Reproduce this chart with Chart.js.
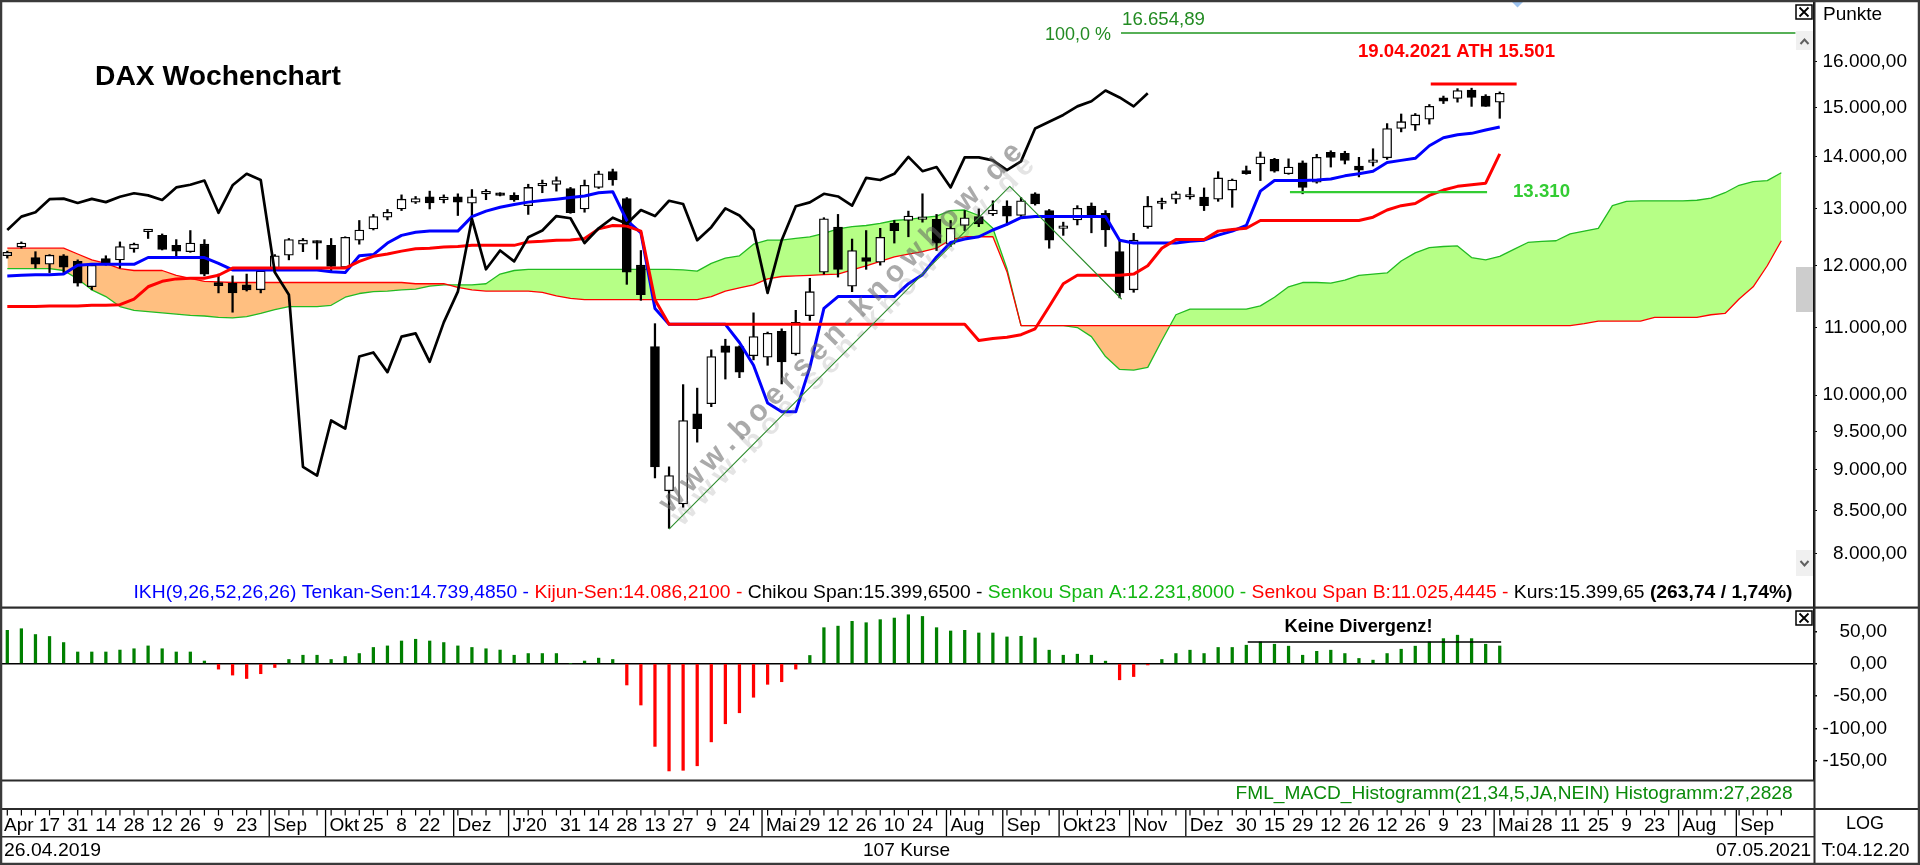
<!DOCTYPE html>
<html>
<head>
<meta charset="utf-8">
<title>DAX Wochenchart</title>
<script src="https://cdn.jsdelivr.net/npm/chart.js@4.4.1/dist/chart.umd.min.js"></script>
<style>
  html, body { margin: 0; padding: 0; background: #fff; }
  #wrap { position: relative; width: 1920px; height: 865px; overflow: hidden; background: #fff; }
  #wrap canvas { position: absolute; left: 0; top: 0; }
</style>
</head>
<body>
<div id="wrap">
  <canvas id="priceChart" width="1920" height="865"></canvas>
  <canvas id="macdChart" width="1920" height="865"></canvas>
</div>
<script>
// weekly candles 26.04.2019 .. 07.05.2021 (index 0..106)
const opens = [
  12170,12320,12140,12025,12170,12075,11650,12120,12100,12290,
  12590,12525,12350,12240,12370,11720,11710,11680,11600,11960,
  12180,12370,12420,12350,11975,12440,12640,12850,13000,13125,
  13225,13170,13225,13105,13280,13280,13250,13060,13430,13455,
  13380,13000,13400,13700,13190,12010,10710,8740,8580,9740,
  9880,10720,10710,10570,10550,10940,10600,11185,11890,12670,
  11660,12140,12060,12740,12790,12810,12810,12370,12700,12860,
  12910,13050,12880,13280,12970,12650,12800,13050,12920,12240,
  11600,12680,13100,13180,13220,13220,13180,13350,13720,13850,
  13940,13660,13870,13500,14080,14060,13810,13880,13970,14560,
  14630,14750,15200,15190,15370,15240,15110
];
const highs = [
  12250,12410,12240,12190,12190,12100,12040,12170,12410,12390,
  12630,12550,12450,12610,12450,11860,11830,11860,11940,12190,
  12470,12470,12430,12470,12500,12790,12900,12990,13260,13230,
  13330,13260,13280,13360,13360,13300,13300,13460,13540,13600,
  13400,13540,13710,13750,13210,12260,11060,9040,10150,10100,
  10660,10820,10720,11230,10930,10980,11270,11790,12840,12900,
  12460,12610,12650,12790,12960,13280,12900,12790,12970,13000,
  13150,13150,13210,13300,12990,12760,13060,13110,12970,12440,
  12560,13230,13200,13320,13400,13390,13700,13560,13810,14085,
  13960,13950,13910,14040,14110,14100,13980,14150,14660,14860,
  14870,15060,15240,15400,15410,15270,15330
];
const lows = [
  12130,12300,11960,11885,11885,11660,11600,12010,11960,12230,
  12470,12270,12160,12230,11830,11550,11240,11580,11550,11890,
  12100,12240,12110,11910,11960,12370,12620,12800,12970,13100,
  13000,13110,12880,12860,13170,13240,13140,12900,13300,13330,
  12920,12940,13380,13440,11690,11430,8900,8290,8540,9360,
  9840,10230,10250,10510,10430,10160,10580,11110,11860,11810,
  11570,11940,12010,12390,12500,12760,12260,12330,12610,12680,
  12880,12710,12860,13070,12300,12525,12710,12570,12330,11470,
  11560,12650,13000,13100,13180,12970,13140,13030,13650,13530,
  13690,13650,13280,13480,13790,13850,13600,13810,13940,14490,
  14520,14650,15080,15110,15020,15020,14770
];
const closes = [
  12230,12390,12025,12180,11975,11710,12010,12040,12330,12370,
  12610,12280,12250,12390,11860,11670,11550,11600,11910,12170,
  12450,12440,12390,11990,12490,12620,12860,12940,13180,13190,
  13110,13185,13125,13225,13290,13250,13165,13400,13450,13530,
  12930,13440,13660,13540,11890,11520,9040,8930,9650,9540,
  10560,10620,10330,10860,10910,10480,11080,11570,12820,11940,
  12260,12075,12490,12610,12870,12830,12390,12650,12840,12730,
  12980,12870,13150,13090,12440,12670,13010,12880,12620,11550,
  12440,13050,13120,13280,13230,13060,13580,13540,13660,13990,
  13710,13790,13400,13980,13980,13920,13730,13900,14560,14700,
  14840,15020,15130,15360,15210,15020,15300
];

// Ichimoku lines
const tenkan = [
  11830,11840,11850,11850,11860,12010,12025,12025,12025,12025,
  12140,12140,12140,12140,12140,12040,11930,11930,11930,11930,
  11930,11930,11930,11900,11885,12170,12190,12390,12525,12580,
  12600,12600,12600,12860,12960,13030,13080,13125,13155,13180,
  13210,13240,13300,13320,12790,12570,11300,11050,11050,11050,
  11050,11050,10770,10430,9890,9770,9770,10400,11300,11490,
  11490,11490,11490,11490,11700,11850,12150,12400,12460,12500,
  12620,12720,12840,12860,12860,12860,12860,12860,12860,12440,
  12390,12390,12390,12390,12420,12440,12530,12600,12700,13330,
  13530,13530,13530,13540,13560,13620,13660,13710,13880,13920,
  13960,14210,14370,14430,14460,14530,14590
];
const kijun = [
  11330,11330,11330,11340,11340,11340,11350,11350,11360,11450,
  11650,11740,11780,11790,11790,11840,11960,11960,11960,11960,
  11960,11960,11960,11960,11960,12075,12160,12200,12250,12290,
  12300,12320,12330,12350,12350,12350,12350,12410,12420,12440,
  12445,12470,12640,12700,12690,12600,11440,11050,11050,11050,
  11050,11050,11050,11050,11050,11050,11050,11050,11050,11050,
  11050,11050,11050,11050,11050,11050,11050,11050,11050,10800,
  10830,10850,10890,10980,11330,11700,11840,11840,11840,11840,
  11860,12000,12300,12450,12450,12450,12600,12630,12650,12790,
  12790,12790,12790,12790,12790,12790,12790,12850,12980,13060,
  13100,13250,13350,13420,13450,13480,14050
];
// cloud, already displaced forward (index 0..126)
const senkouA = [
  11950,11950,11950,11950,11920,11780,11600,11490,11330,11270,
  11250,11230,11210,11190,11180,11160,11150,11170,11220,11280,
  11330,11330,11330,11350,11480,11540,11570,11580,11600,11610,
  11660,11680,11680,11680,11700,11860,11920,11940,11940,11940,
  11940,11940,11940,11940,11940,11940,11940,11940,11930,11910,
  12040,12130,12170,12370,12440,12440,12470,12500,12560,12640,
  12680,12700,12740,12790,12810,12840,12870,12970,12980,12880,
  12650,11950,11030,11030,11030,11030,11000,10860,10560,10370,
  10360,10400,10800,11200,11290,11290,11290,11290,11290,11340,
  11480,11650,11720,11720,11710,11760,11840,11860,11880,12080,
  12220,12310,12330,12340,12140,12100,12160,12280,12400,12420,
  12430,12550,12600,12650,13060,13140,13150,13150,13150,13150,
  13160,13200,13300,13440,13510,13530,13680
];
const senkouB = [
  12300,12300,12300,12300,12300,12200,12100,12040,11950,11920,
  11920,11920,11840,11790,11740,11730,11720,11720,11720,11720,
  11720,11720,11720,11720,11720,11720,11720,11720,11720,11700,
  11700,11700,11640,11600,11580,11580,11580,11580,11560,11500,
  11460,11440,11440,11440,11440,11440,11440,11440,11440,11440,
  11490,11580,11630,11680,11780,11820,11830,11840,11850,11860,
  11930,12000,12075,12150,12200,12240,12300,12450,12500,12500,
  12500,11900,11030,11030,11030,11030,11030,11030,11030,11030,
  11030,11030,11030,11030,11030,11030,11030,11030,11030,11030,
  11030,11030,11030,11030,11030,11030,11030,11030,11030,11030,
  11030,11030,11030,11030,11030,11030,11030,11030,11030,11030,
  11030,11030,11060,11100,11100,11100,11100,11160,11160,11160,
  11160,11200,11220,11450,11650,12000,12430
];
const chikouShift = 25;

// FML MACD histogram (21,34,5)
const macdHist = [
  51.5,54,45,42,32.6,18,18,18,21,23,
  27.4,23,18,18,4,-8.5,-17.7,-23,-15.6,-6,
  6.4,13,13,6.4,11,15.6,25,27.4,35,37.7,
  35,32.6,27.4,25,23,21,13,15.6,15.6,15.6,
  0,4,8.5,6.4,-33,-64,-128,-166,-165,-158,
  -121,-93,-76,-52,-32,-28,-8.5,12.6,55.6,58,
  65.4,63.3,68,70.5,75.6,73,55.6,50.5,51.5,47.4,
  47.4,41.3,42.3,39.7,20.8,13,14.6,13,3.8,-25,
  -20,-2,6.4,15.6,20.8,15.6,25,25,28.5,33.6,
  30,27,13,19,20.8,15.6,8,5.4,15.6,22.3,
  27,33.6,38.7,44,38.7,30,27.3
];

// drawn annotations (week index, value)
const triangle = [[47, 8282], [71.2, 13420], [79.15, 11447]];
const fiboLine = [[79.1, 16654.89], [127, 16654.89]];
const athLine = [[101.1, 15501], [107.2, 15501]];
const supportLine = [[91.1, 13310], [105.1, 13310]];
const divergenceLine = [[88.1, 33.5], [106.1, 33.5]];

// axis ticks
const priceTicks = [8000, 8500, 9000, 9500, 10000, 11000, 12000, 13000, 14000, 15000, 16000];
const macdTicks = [-150, -100, -50, 0, 50];
const weekLabels = [
  [3,'17'],[5,'31'],[7,'14'],[9,'28'],[11,'12'],[13,'26'],[15,'9'],[17,'23'],
  [26,'25'],[28,'8'],[30,'22'],
  [40,'31'],[42,'14'],[44,'28'],[46,'13'],[48,'27'],[50,'9'],[52,'24'],
  [57,'29'],[59,'12'],[61,'26'],[63,'10'],[65,'24'],
  [78,'23'],
  [88,'30'],[90,'15'],[92,'29'],[94,'12'],[96,'26'],[98,'12'],[100,'26'],[102,'9'],[104,'23'],
  [109,'28'],[111,'11'],[113,'25'],[115,'9'],[117,'23']
];
const monthLabels = [
  [-0.3,'Apr'],[18.6,'Sep'],[22.6,'Okt'],[31.7,'Dez'],[35.6,"J'20"],[53.6,'Mai'],
  [66.7,'Aug'],[70.7,'Sep'],[74.7,'Okt'],[79.7,'Nov'],[83.7,'Dez'],
  [105.6,'Mai'],[118.7,'Aug'],[122.8,'Sep']
];
const legendParts = [
  ['IKH(9,26,52,26,26) Tenkan-Sen:14.739,4850 - ', '#0000ff', false],
  ['Kijun-Sen:14.086,2100 - ', '#ff0000', false],
  ['Chikou Span:15.399,6500 - ', '#000000', false],
  ['Senkou Span A:12.231,8000 - ', '#11b611', false],
  ['Senkou Span B:11.025,4445 - ', '#ff0000', false],
  ['Kurs:15.399,65 ', '#000000', false],
  ['(263,74 / 1,74%)', '#000000', true]
];

// layout of the panels
const X_MIN = -0.3764, X_MAX = 128.32;
const Y_MIN = 7431, Y_MAX = 17399;
const M_MIN = -180, M_MAX = 84.5;
const PLOT_RIGHT = 1814;
const FONT = 'Arial, "Liberation Sans", sans-serif';

Chart.defaults.font.family = FONT;
Chart.defaults.font.size = 19;
Chart.defaults.color = '#000';

const pts = arr => arr.map((v, i) => ({ x: i, y: v }));
const pairs = arr => arr.map(([x, y]) => ({ x, y }));
function fmtDE(v) {
  const [a, b] = Math.abs(v).toFixed(2).split('.');
  return (v < 0 ? '-' : '') + a.replace(/\B(?=(\d{3})+(?!\d))/g, '.') + ',' + b;
}
function drawText(ctx, text, x, y, o = {}) {
  ctx.save();
  ctx.font = o.font || ('19px ' + FONT);
  ctx.fillStyle = o.color || '#000';
  ctx.textBaseline = 'middle';
  ctx.textAlign = 'left';
  const w = ctx.measureText(text).width;
  const sx = o.width ? o.width / w : 1;
  let left = x;
  if (o.align === 'center') left = x - w * sx / 2;
  if (o.align === 'right') left = x - w * sx;
  ctx.translate(left, y);
  ctx.scale(sx, 1);
  ctx.fillText(text, 0, 0);
  ctx.restore();
}
function closeBox(ctx, x, y) {
  ctx.save();
  ctx.fillStyle = '#fff';
  ctx.fillRect(x, y, 16, 14);
  ctx.strokeStyle = '#000';
  ctx.lineWidth = 1.5;
  ctx.strokeRect(x, y, 16, 14);
  ctx.lineWidth = 1.8;
  ctx.beginPath();
  ctx.moveTo(x + 3.5, y + 2.5); ctx.lineTo(x + 12.5, y + 11.5);
  ctx.moveTo(x + 12.5, y + 2.5); ctx.lineTo(x + 3.5, y + 11.5);
  ctx.stroke();
  ctx.restore();
}

const mainDecor = {
  id: 'mainDecor',
  afterDatasetsDraw(chart) {
    // watermark
    const ctx = chart.ctx;
    const text = 'www.boersen-knowhow.de';
    const ang = Math.atan2(153 - 503, 1013 - 670);
    ctx.save();
    ctx.font = 'bold 30px ' + FONT;
    ctx.textBaseline = 'middle';
    const chars = [...text];
    const widths = chars.map(ch => ctx.measureText(ch).width);
    const natural = widths.reduce((a, b) => a + b, 0);
    const total = 505;
    const gap = (total - natural) / (chars.length - 1);
    const put = (cx, cy, color) => {
      ctx.save();
      ctx.translate(cx, cy);
      ctx.rotate(ang);
      ctx.fillStyle = color;
      let x = -total / 2;
      chars.forEach((ch, i) => { ctx.fillText(ch, x, 0); x += widths[i] + gap; });
      ctx.restore();
    };
    put(853, 341, 'rgba(120,120,120,0.2)');
    put(841, 328, 'rgba(100,100,100,0.55)');
    ctx.restore();
  },
  afterDraw(chart) {
    const ctx = chart.ctx;
    const ys = chart.scales.y;
    drawText(ctx, 'DAX Wochenchart', 95, 77, { font: 'bold 28px ' + FONT, width: 246 });
    drawText(ctx, '100,0 %', 1045, ys.getPixelForValue(16654.89) + 2, { color: '#228b22', width: 66 });
    drawText(ctx, '16.654,89', 1122, ys.getPixelForValue(16654.89) - 13, { color: '#228b22', width: 83 });
    drawText(ctx, '19.04.2021 ATH 15.501', 1358, 52, { font: 'bold 19px ' + FONT, color: '#ff0000', width: 197 });
    drawText(ctx, '13.310', 1513, ys.getPixelForValue(13310), { font: 'bold 19px ' + FONT, color: '#33cc33', width: 57 });
    drawText(ctx, 'Punkte', 1823, 15);

    // indicator legend line
    ctx.save();
    let total = 0;
    const widths = legendParts.map(([t, , bold]) => {
      ctx.font = (bold ? 'bold ' : '') + '19px ' + FONT;
      const w = ctx.measureText(t).width;
      total += w;
      return w;
    });
    const sx = 1659 / total;
    ctx.translate(133.5, 593);
    ctx.scale(sx, 1);
    ctx.textBaseline = 'middle';
    let x = 0;
    legendParts.forEach(([t, color, bold], i) => {
      ctx.font = (bold ? 'bold ' : '') + '19px ' + FONT;
      ctx.fillStyle = color;
      ctx.fillText(t, x, 0);
      x += widths[i];
    });
    ctx.restore();

    // scrollbar pieces and window markers
    ctx.save();
    ctx.fillStyle = '#f0f0f0';
    ctx.fillRect(1796, 31, 17, 19);
    ctx.fillRect(1796, 550, 17, 26);
    ctx.fillStyle = '#cdcdcd';
    ctx.fillRect(1796, 267, 17, 45);
    ctx.strokeStyle = '#606060';
    ctx.lineWidth = 2;
    ctx.beginPath();
    ctx.moveTo(1800.5, 44); ctx.lineTo(1804.5, 39.5); ctx.lineTo(1808.5, 44);
    ctx.moveTo(1800.5, 561); ctx.lineTo(1804.5, 565.5); ctx.lineTo(1808.5, 561);
    ctx.stroke();
    ctx.fillStyle = '#9cc2ee';
    ctx.beginPath();
    ctx.moveTo(1511, 1); ctx.lineTo(1524, 1); ctx.lineTo(1517.5, 7.5); ctx.closePath();
    ctx.fill();
    ctx.restore();
    closeBox(ctx, 1796, 5);
  }
};

const macdDecor = {
  id: 'macdDecor',
  afterDraw(chart) {
    const ctx = chart.ctx;
    const xs = chart.scales.x;
    drawText(ctx, 'Keine Divergenz!', 1284.5, 627, { font: 'bold 19px ' + FONT, width: 148 });
    drawText(ctx, 'FML_MACD_Histogramm(21,34,5,JA,NEIN) Histogramm:27,2828', 1235.6, 794, { color: '#0a8a0a', width: 557 });
    closeBox(ctx, 1796, 611);

    // frame and panel separators
    ctx.save();
    ctx.fillStyle = '#2b2b2b';
    ctx.fillRect(0, 606.5, 1920, 2.2);
    ctx.fillRect(0, 779.5, 1815, 2);
    ctx.fillRect(0, 808, 1920, 2);
    ctx.fillRect(0, 836, 1815, 1.5);
    ctx.fillRect(1813.5, 0, 2, 865);
    ctx.strokeStyle = '#3a3a3a';
    ctx.lineWidth = 2.5;
    ctx.strokeRect(1, 1, 1918, 863);

    // time axis
    ctx.fillStyle = '#000';
    for (let i = 0; i <= 126; i++) {
      const px = xs.getPixelForValue(i);
      ctx.fillRect(px - 0.6, 810, 1.2, 5.5);
    }
    ctx.font = '19px ' + FONT;
    ctx.textBaseline = 'middle';
    ctx.textAlign = 'center';
    weekLabels.forEach(([i, t]) => ctx.fillText(t, xs.getPixelForValue(i), 826));
    ctx.textAlign = 'left';
    monthLabels.forEach(([p, t]) => {
      const px = xs.getPixelForValue(p);
      if (p >= 0) {
        ctx.fillRect(px - 0.6, 810, 1.3, 26);
        ctx.fillText(t, px + 4, 826);
      } else {
        ctx.fillText(t, 4, 826);
      }
    });
    ctx.restore();

    drawText(ctx, '26.04.2019', 4, 851, { width: 97 });
    drawText(ctx, '107 Kurse', 863, 851, { width: 87 });
    drawText(ctx, '07.05.2021', 1716, 851, { width: 95 });
    drawText(ctx, 'LOG', 1846, 824, { width: 38 });
    drawText(ctx, 'T:04.12.20', 1821.5, 851, { width: 88 });
  }
};

// right-aligned tick labels end at labelRight: axis box runs from PLOT_RIGHT to labelRight
function rightAxis(labelRight) {
  return {
    padRight: 1920 - labelRight,
    afterFit: s => { s.width = labelRight - PLOT_RIGHT; s.paddingTop = 0; s.paddingBottom = 0; }
  };
}
const priceAxis = rightAxis(1907);
const macdAxis = rightAxis(1887);

new Chart(document.getElementById('priceChart'), {
  type: 'line',
  data: {
    datasets: [
      { label: 'Senkou Span A', data: pts(senkouA), borderColor: '#22bb22', borderWidth: 1.3,
        fill: { target: 1, above: '#b6ff86', below: '#ffbf80' }, order: 20 },
      { label: 'Senkou Span B', data: pts(senkouB), borderColor: '#ff0000', borderWidth: 1.3, fill: false, order: 19 },
      { type: 'bar', label: 'Docht', data: closes.map((c, i) => ({ x: i, y: [lows[i], highs[i]] })),
        backgroundColor: '#000', barThickness: 1.6, grouped: false, order: 15 },
      { type: 'bar', label: 'Kerze',
        data: closes.map((c, i) => ({ x: i, y: [Math.min(opens[i], c), Math.max(opens[i], c)] })),
        backgroundColor: closes.map((c, i) => c >= opens[i] ? '#ffffff' : '#000000'),
        borderColor: '#000', borderWidth: 1.3, borderSkipped: false, barThickness: 9,
        minBarLength: 2.5, grouped: false, order: 14 },
      { label: 'Tenkan-Sen', data: pts(tenkan), borderColor: '#0000ff', borderWidth: 3, order: 6 },
      { label: 'Kijun-Sen', data: pts(kijun), borderColor: '#ff0000', borderWidth: 3, order: 5 },
      { label: 'Chikou Span', data: pts(closes.slice(chikouShift)), borderColor: '#000', borderWidth: 2.7, order: 4 },
      { label: 'Dreieck', data: pairs(triangle), borderColor: '#2a8c2a', borderWidth: 1.1, order: 3 },
      { label: '100,0 %', data: pairs(fiboLine), borderColor: '#1f961f', borderWidth: 1.6, order: 2 },
      { label: 'ATH', data: pairs(athLine), borderColor: '#ff0000', borderWidth: 3, order: 2 },
      { label: '13.310', data: pairs(supportLine), borderColor: '#33cc33', borderWidth: 2.2, order: 2 }
    ]
  },
  options: {
    responsive: false,
    animation: false,
    devicePixelRatio: 1,
    events: [],
    layout: { autoPadding: false, padding: { left: 2, top: 2, right: priceAxis.padRight, bottom: 865 - 606 } },
    elements: { point: { radius: 0 }, line: { tension: 0, borderJoinStyle: 'round' } },
    plugins: { legend: { display: false }, tooltip: { enabled: false } },
    scales: {
      x: { type: 'linear', min: X_MIN, max: X_MAX, display: false, offset: false },
      y: {
        type: 'logarithmic', position: 'right', min: Y_MIN, max: Y_MAX, bounds: 'data',
        afterBuildTicks: s => { s.ticks = priceTicks.map(v => ({ value: v })); },
        afterFit: priceAxis.afterFit,
        ticks: { callback: v => fmtDE(v), crossAlign: 'far', padding: 4, autoSkip: false,
                 font: { size: 19 }, color: '#000' },
        grid: { drawOnChartArea: false, tickLength: 3, color: '#000' },
        border: { display: true, color: '#000', width: 1.5 }
      }
    }
  },
  plugins: [mainDecor]
});

new Chart(document.getElementById('macdChart'), {
  type: 'bar',
  data: {
    datasets: [
      { type: 'line', label: 'Keine Divergenz!', data: pairs(divergenceLine), borderColor: '#000',
        borderWidth: 1.6, pointRadius: 0, order: 1 },
      { label: 'Histogramm', data: pts(macdHist),
        backgroundColor: macdHist.map(v => v >= 0 ? '#008000' : '#ff0000'),
        barThickness: 2.6, grouped: false, order: 2 }
    ]
  },
  options: {
    responsive: false,
    animation: false,
    devicePixelRatio: 1,
    events: [],
    layout: { autoPadding: false, padding: { left: 2, top: 609, right: macdAxis.padRight, bottom: 865 - 780 } },
    plugins: { legend: { display: false }, tooltip: { enabled: false } },
    scales: {
      x: { type: 'linear', min: X_MIN, max: X_MAX, display: false, offset: false },
      y: {
        type: 'linear', position: 'right', min: M_MIN, max: M_MAX, bounds: 'data',
        afterBuildTicks: s => { s.ticks = macdTicks.map(v => ({ value: v })); },
        afterFit: macdAxis.afterFit,
        ticks: { callback: v => fmtDE(v), crossAlign: 'far', padding: 4, autoSkip: false,
                 font: { size: 19 }, color: '#000' },
        grid: { color: c => (c.tick && c.tick.value === 0) ? '#000' : 'rgba(0,0,0,0)',
                tickColor: '#000', tickLength: 3, lineWidth: 1.5 },
        border: { display: true, color: '#000', width: 1.5 }
      }
    }
  },
  plugins: [macdDecor]
});
</script>
</body>
</html>
